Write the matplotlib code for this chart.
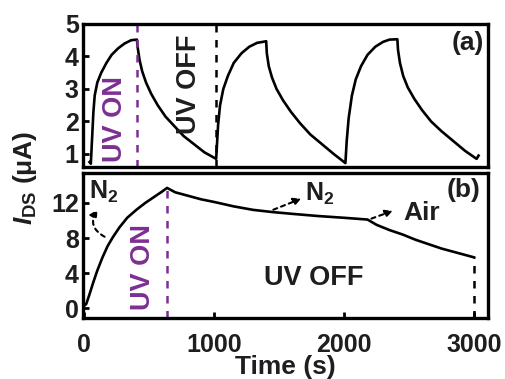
import matplotlib
matplotlib.use("Agg")
from matplotlib import pyplot as plt

plt.rcParams['font.family'] = ['Liberation Sans', 'DejaVu Sans']
plt.rcParams['font.weight'] = 'bold'
plt.rcParams['axes.labelweight'] = 'bold'
plt.rcParams['mathtext.fontset'] = 'custom'
plt.rcParams['mathtext.it'] = 'Liberation Sans:italic:bold'
plt.rcParams['mathtext.rm'] = 'Liberation Sans:bold'

# panel (a): repeated UV on/off cycles
t_a = [40, 50, 60, 70, 80, 100, 130, 170, 210, 260, 310, 360, 405,
       410, 425, 445, 475, 515, 565, 625, 695, 765, 845, 925, 1015,
       1020, 1030, 1045, 1070, 1105, 1150, 1210, 1270, 1330, 1375, 1400,
       1405, 1420, 1445, 1480, 1530, 1590, 1660, 1740, 1830, 1920, 2010,
       2020, 2035, 2060, 2090, 2130, 2180, 2240, 2300, 2350, 2410,
       2415, 2430, 2455, 2490, 2540, 2600, 2670, 2750, 2840, 2930, 3020, 3035]
i_a = [0.75, 0.7, 1.5, 2.3, 2.8, 3.2, 3.5, 3.8, 4.05, 4.25, 4.4, 4.5, 4.52,
       4.3, 3.9, 3.55, 3.2, 2.85, 2.5, 2.15, 1.85, 1.55, 1.3, 1.05, 0.85,
       1.2, 1.9, 2.5, 3.0, 3.4, 3.8, 4.1, 4.3, 4.42, 4.45, 4.47,
       4.1, 3.7, 3.35, 3.0, 2.65, 2.3, 1.95, 1.6, 1.3, 1.0, 0.72,
       1.4, 2.1, 2.8, 3.3, 3.7, 4.05, 4.3, 4.45, 4.52, 4.53,
       4.2, 3.8, 3.4, 3.05, 2.7, 2.35, 2.0, 1.7, 1.4, 1.1, 0.85, 0.95]

# panel (b): one UV pulse, N2 then air
t_b = [0, 15, 40, 70, 100, 140, 180, 220, 270, 330, 400, 470, 540, 600, 637,
       700, 800, 900, 1000, 1150, 1300, 1450, 1600, 1800, 2000, 2180,
       2250, 2350, 2450, 2550, 2650, 2750, 2850, 2950, 3000]
i_b = [0.3, 0.5, 1.6, 3.0, 4.3, 5.8, 7.1, 8.1, 9.2, 10.3, 11.2, 12.0, 12.7, 13.3, 13.7,
       13.2, 12.8, 12.4, 12.1, 11.6, 11.2, 10.95, 10.75, 10.5, 10.3, 10.1,
       9.5, 8.9, 8.4, 7.8, 7.3, 6.8, 6.4, 6.0, 5.8]

uv_on_a, uv_off_a = 405, 1015
uv_on_b, end_b = 637, 3000
purple = '#7d2e92'
ink = '#1e1e1e'

fig = plt.figure(figsize=(5.05, 3.79), dpi=100)
ax1 = fig.add_axes([0.1644, 0.5594, 0.802, 0.3773])
ax2 = fig.add_axes([0.1644, 0.161, 0.802, 0.3826])

for ax in (ax1, ax2):
    for s in ax.spines.values():
        s.set_linewidth(2.4)
    ax.tick_params(direction='in', width=2, length=4, labelsize=18, pad=3, labelcolor=ink)
    ax.set_xlim(-10, 3108)

# top panel
ax1.plot(t_a, i_a, color='black', lw=1.9)
ax1.set_ylim(0.6, 5.0)
ax1.set_yticks([1, 2, 3, 4, 5])
ax1.set_xticks([])
ax1.axvline(uv_on_a, color=purple, ls=(0, (3, 3)), lw=1.8)
ax1.axvline(uv_off_a, color='black', ls=(0, (3, 3)), lw=1.8)
ax1.text(0.95, 0.87, '(a)', transform=ax1.transAxes, ha='center', va='center', fontsize=19, color=ink)
ax1.text(238, 2.08, 'UV ON', color=purple, rotation=90, ha='center', va='center', fontsize=19.5)
ax1.text(806, 3.15, 'UV OFF', color=ink, rotation=90, ha='center', va='center', fontsize=19.5)

# bottom panel
ax2.plot(t_b, i_b, color='black', lw=1.9)
ax2.set_ylim(-1.1, 15.4)
ax2.set_yticks([0, 4, 8, 12])
ax2.set_xticks([0, 1000, 2000, 3000])
ax2.tick_params(axis='x', pad=10.5)
ax2.plot([uv_on_b, uv_on_b], [-1.1, 13.7], color=purple, ls=(0, (3, 3)), lw=1.8)
ax2.plot([end_b, end_b], [-1.1, 5.8], color='black', ls=(0, (3, 3)), lw=1.8)
ax2.text(0.94, 0.88, '(b)', transform=ax2.transAxes, ha='center', va='center', fontsize=19, color=ink)
ax2.text(453, 4.7, 'UV ON', color=purple, rotation=90, ha='center', va='center', fontsize=19.5)
ax2.text(1765, 3.5, 'UV OFF', color=ink, ha='center', va='center', fontsize=19.5)

arrow = dict(arrowstyle='-|>', ls=(0, (2, 2)), lw=1.5, color='black', mutation_scale=11)
ax2.annotate('', xy=(115, 11.5), xytext=(175, 8.0),
             arrowprops=dict(arrow, connectionstyle='arc3,rad=-0.6'))
ax2.text(150, 13.3, r'N$_{\mathrm{2}}$', ha='center', va='center', fontsize=18, color=ink)
ax2.annotate('', xy=(1690, 12.6), xytext=(1435, 11.1), arrowprops=arrow)
ax2.text(1810, 13.0, r'N$_{\mathrm{2}}$', ha='center', va='center', fontsize=18, color=ink)
ax2.annotate('', xy=(2395, 11.2), xytext=(2190, 10.1), arrowprops=arrow)
ax2.text(2600, 10.9, 'Air', ha='center', va='center', fontsize=19, color=ink)

ax2.set_xlabel('Time (s)', fontsize=19, labelpad=-1, color=ink)
fig.text(0.05, 0.53, r'$I_{\mathrm{DS}}$ (μA)', rotation=90, ha='center', va='center', fontsize=19, color=ink)

fig.savefig('out.png', dpi=100)
